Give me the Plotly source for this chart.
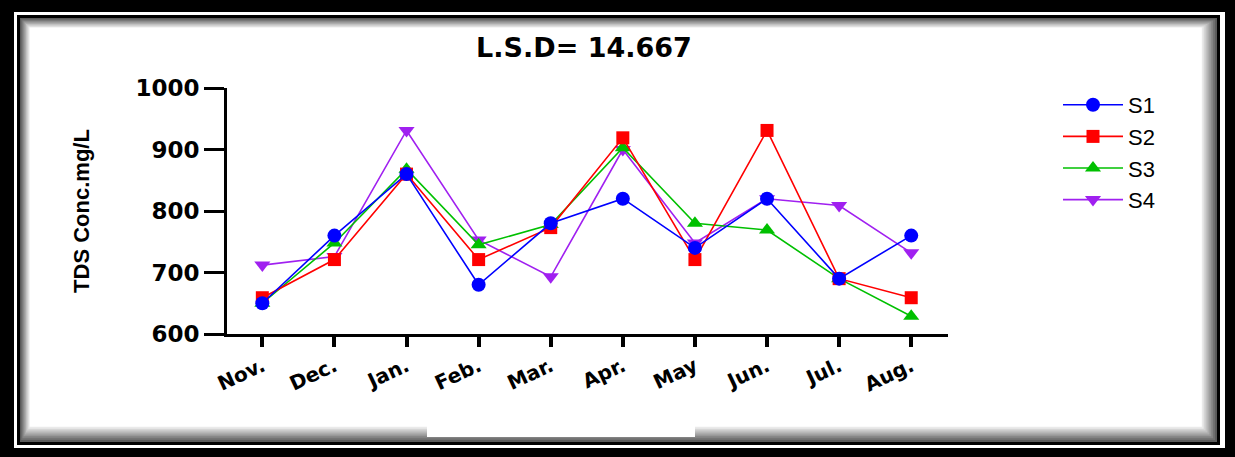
import plotly.graph_objects as go

# ---- data ----
months = ["Nov.", "Dec.", "Jan.", "Feb.", "Mar.", "Apr.", "May", "Jun.", "Jul.", "Aug."]
s1 = [650, 760, 860, 680, 780, 820, 740, 820, 690, 760]
s2 = [659, 721, 860, 721, 773, 919, 721, 931, 690, 659]
s3 = [650, 748, 868, 745, 778, 903, 780, 769, 690, 629]
s4 = [712, 726, 931, 753, 693, 900, 748, 820, 809, 732]
series_names = ["S1", "S2", "S3", "S4"]
y_ticks = [600, 700, 800, 900, 1000]
title_text = "L.S.D= 14.667"
y_title = "TDS Conc.mg/L"

W, H = 1235, 457
L, R, T, B = 227, 948, 88, 334   # plot area in pixels

def px(xp):
    return (xp - L) / (R - L)

def py(yp):
    return (B - yp) / (B - T)

styles = {
    "S1": dict(color="#0000FF", symbol="circle", size=14),
    "S2": dict(color="#FF0000", symbol="square", size=13),
    "S3": dict(color="#00C000", symbol="triangle-up", size=14),
    "S4": dict(color="#A020F0", symbol="triangle-down", size=14),
}
values = {"S1": s1, "S2": s2, "S3": s3, "S4": s4}

fig = go.Figure()
for rank, name in reversed(list(enumerate(series_names))):
    st = styles[name]
    fig.add_trace(go.Scatter(
        x=months, y=values[name], name=name, mode="lines+markers",
        line=dict(color=st["color"], width=1.6),
        marker=dict(color=st["color"], symbol=st["symbol"], size=st["size"],
                    line=dict(width=0)),
        legendrank=rank + 1, legendgroup=name,
    ))

# ---- frame shapes ----
shapes = []
def rect(x0, y0, x1, y1, fill, layer="below"):
    shapes.append(dict(type="rect", xref="paper", yref="paper",
                       x0=px(x0), x1=px(x1), y0=py(y1), y1=py(y0),
                       fillcolor=fill, line=dict(width=0), layer=layer))

rect(14, 12, 1225, 448, "white")
rect(17, 15, 1220, 445, "black")
steps = 9
for i in range(steps):
    g = int(70 + (255 - 70) * (i + 1) / steps)
    rect(20 + i * 1.2, 18 + i * 1.2, 1217 - i * 1.9, 442 - i * 1.9,
         f"rgb({g},{g},{g})")
rect(20 + steps * 1.2, 18 + steps * 1.2, 1217 - steps * 1.9, 442 - steps * 1.9, "white")
# white patch at the bottom edge of the frame
rect(427, 398, 695, 437, "white")

fig.update_layout(
    width=W, height=H,
    margin=dict(l=L, r=W - R, t=T, b=H - B, autoexpand=False),
    paper_bgcolor="black",
    plot_bgcolor="rgba(0,0,0,0)",
    shapes=shapes,
    title=dict(text=title_text, x=584 / W, xref="container", xanchor="center",
               y=1 - 48 / H, yref="container", yanchor="middle",
               font=dict(family="DejaVu Sans", size=27, color="black", weight="bold")),
    showlegend=True,
    legend=dict(x=px(1058), y=py(84), xanchor="left", yanchor="top",
                font=dict(family="Liberation Sans, Arial", size=22, color="black"),
                bgcolor="rgba(0,0,0,0)", itemwidth=60,
                traceorder="grouped", tracegroupgap=0),
    xaxis=dict(
        type="category", range=[-0.49, 9.51],
        showline=True, linecolor="black", linewidth=3,
        ticks="outside", ticklen=10, tickwidth=4, tickcolor="black",
        tickangle=-25, showgrid=False, zeroline=False,
        tickfont=dict(family="DejaVu Sans", size=20, color="black", weight="bold"),
    ),
    yaxis=dict(
        range=[600, 1000], tickvals=y_ticks,
        showline=True, linecolor="black", linewidth=3,
        ticks="outside", ticklen=20, tickwidth=3, tickcolor="black",
        showgrid=False, zeroline=False,
        tickfont=dict(family="DejaVu Sans", size=23, color="black", weight="bold"),
        title=dict(text=y_title, standoff=40,
                   font=dict(family="Liberation Sans Narrow, Liberation Sans, Arial",
                             size=22, color="black", weight="bold")),
    ),
)

fig.write_html("out.html", config={"displayModeBar": False},
               post_script="document.body.style.margin='0';document.body.style.overflow='hidden';")
